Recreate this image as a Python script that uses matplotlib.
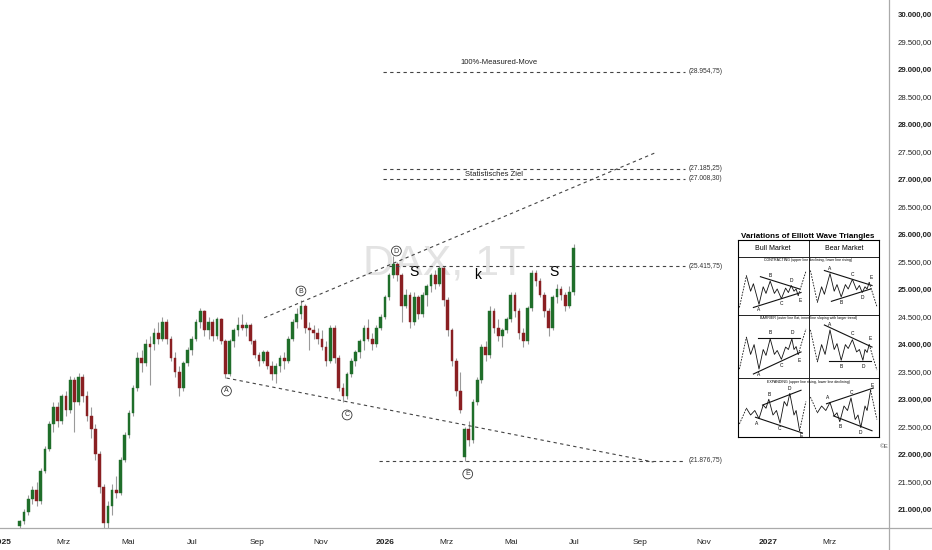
import matplotlib
matplotlib.use("Agg")
import matplotlib.pyplot as plt
import matplotlib.dates as mdates
from matplotlib.lines import Line2D
import pandas as pd

plt.rcParams['font.family'] = ['Liberation Sans', 'DejaVu Sans']

# DAX daily candles (one candle drawn per 4 calendar days)
candle_start = "2025-01-18"
opens = [20700, 20780, 20950, 21180, 21350, 21150, 21700, 22100, 22550, 22850,
         22600, 23050, 22800, 23350, 22950, 23400, 23050, 22700, 22450, 22000,
         21400, 20750, 21050, 21350, 21300, 21900, 22350, 22750, 23200, 23750,
         23650, 24000, 24000, 24200, 24100, 24400, 24100, 23750, 23500, 23200,
         23650, 23900, 24100, 24400, 24600, 24250, 24400, 24150, 24450, 24050,
         23450, 24050, 24250, 24350, 24300, 24350, 24050, 23800, 23700, 23850,
         23600, 23450, 23600, 23750, 23700, 24100, 24400, 24550, 24700, 24300,
         24250, 24200, 24100, 23950, 23700, 24300, 23750, 23200, 23050, 23450,
         23700, 23850, 24050, 24300, 24100, 24000, 24300, 24500, 24850, 25250,
         25450, 25250, 24700, 24900, 24400, 24850, 24550, 24900, 25050, 25250,
         25100, 25380, 24800, 24250, 23700, 23150, 21950, 22450, 22250, 22950,
         23350, 23950, 23800, 24600, 24300, 24150, 24250, 24450, 24900, 24600,
         24200, 24050, 24650, 25300, 25150, 24900, 24600, 24300, 24850, 25000,
         24900, 24700, 24950]
highs = [20800, 21000, 21250, 21420, 21500, 21750, 22150, 22600, 22950, 22950,
         23100, 23150, 23420, 23400, 23480, 23450, 23150, 22850, 22550, 22050,
         21450, 21150, 21450, 21600, 21950, 22400, 22800, 23250, 23850, 23900,
         24100, 24150, 24300, 24400, 24500, 24450, 24150, 23850, 23600, 23700,
         23950, 24150, 24450, 24650, 24620, 24500, 24450, 24500, 24480, 24100,
         24100, 24300, 24500, 24550, 24400, 24380, 24100, 23850, 23900, 23900,
         23700, 23650, 23800, 23850, 24150, 24450, 24650, 24800, 24720, 24400,
         24350, 24300, 24250, 24050, 24350, 24350, 23800, 23300, 23500, 23750,
         23900, 24100, 24350, 24450, 24200, 24350, 24550, 24900, 25300, 25600,
         25500, 25300, 25000, 24950, 24950, 24900, 24950, 25100, 25300, 25350,
         25420, 25420, 24850, 24300, 23750, 23500, 22500, 22600, 23000, 23400,
         24000, 24050, 24700, 24650, 24450, 24300, 24500, 24950, 24950, 24650,
         24300, 24700, 25350, 25350, 25200, 24950, 24650, 24900, 25100, 25050,
         24950, 25050, 25820]
lows = [20650, 20720, 20900, 21100, 21050, 21100, 21650, 22050, 22400, 22500,
        22550, 22700, 22750, 22400, 22900, 22950, 22600, 22300, 21900, 21300,
        20500, 20550, 20900, 21200, 21250, 21850, 22300, 22700, 23150, 23500,
        23600, 23250, 23900, 24000, 24050, 24000, 23700, 23400, 23050, 23150,
        23600, 23800, 24050, 24300, 24150, 24100, 24050, 24100, 24000, 23380,
        23420, 23950, 24150, 24250, 24150, 24000, 23750, 23600, 23650, 23550,
        23350, 23300, 23500, 23550, 23650, 24050, 24300, 24450, 24200, 23900,
        24100, 24000, 23900, 23600, 23650, 23650, 23150, 22950, 23000, 23400,
        23600, 23750, 23900, 24050, 23900, 23950, 24250, 24450, 24800, 25200,
        25150, 24400, 24650, 24300, 24350, 24450, 24500, 24700, 24950, 25000,
        25050, 24700, 24150, 23600, 23050, 22750, 21880, 22150, 22200, 22900,
        23300, 23700, 23750, 24200, 24050, 23950, 24200, 24400, 24500, 24100,
        23950, 24000, 24600, 25050, 24850, 24500, 24150, 24250, 24750, 24800,
        24600, 24650, 24900]
closes = [20780, 20950, 21180, 21350, 21150, 21700, 22100, 22550, 22850, 22600,
          23050, 22800, 23350, 22950, 23400, 23050, 22700, 22450, 22000, 21400,
          20750, 21050, 21350, 21300, 21900, 22350, 22750, 23200, 23750, 23650,
          24000, 23950, 24200, 24100, 24400, 24100, 23750, 23500, 23200, 23650,
          23900, 24100, 24400, 24600, 24250, 24400, 24150, 24450, 24050, 23450,
          24050, 24250, 24350, 24300, 24350, 24050, 23800, 23700, 23850, 23600,
          23450, 23600, 23750, 23700, 24100, 24400, 24550, 24700, 24300, 24250,
          24200, 24100, 23950, 23700, 24300, 23750, 23200, 23050, 23450, 23700,
          23850, 24050, 24300, 24100, 24000, 24300, 24500, 24850, 25250, 25450,
          25250, 24700, 24900, 24400, 24850, 24550, 24900, 25050, 25250, 25100,
          25380, 24800, 24250, 23700, 23150, 22800, 22450, 22250, 22950, 23350,
          23950, 23800, 24600, 24300, 24150, 24250, 24450, 24900, 24600, 24200,
          24050, 24650, 25300, 25150, 24900, 24600, 24300, 24850, 25000, 24900,
          24700, 24950, 25750]

# horizontal target levels
level_values = [28954.75, 27185.25, 27008.30, 25415.75, 21876.75]
level_texts = ["(28.954,75)", "(27.185,25)", "(27.008,30)", "(25.415,75)", "(21.876,75)"]
level_starts = ["2025-12-30", "2025-12-30", "2025-12-30", "2026-01-05", "2025-12-26"]
level_end = "2026-10-14"

# Elliott wave labels
wave_names = ["A", "B", "C", "D", "E"]
wave_dates = ["2025-08-03", "2025-10-13", "2025-11-26", "2026-01-12", "2026-03-21"]
wave_prices = [23146, 24964, 22710, 25691, 21637]

# triangle boundaries
upper_line = (["2025-09-08", "2026-09-17"], [24478, 27487])
lower_line = (["2025-08-03", "2026-09-14"], [23382, 21855])

dates = pd.date_range(candle_start, periods=len(closes), freq="4D")
x = mdates.date2num(dates)
d0 = mdates.date2num(pd.Timestamp("2025-01-01"))

fig = plt.figure(figsize=(9.32, 5.5), dpi=100)
ax = fig.add_axes([0, 22 / 550, 889 / 932, 528 / 550])
ax.set_xlim(d0 - 1.9, d0 + 845.6)
ax.set_ylim(20655, 30255)

# watermark
ax.text(mdates.date2num(pd.Timestamp("2026-02-27")), 25470, "DAX, 1T", fontsize=31,
        color="#e3e3e3", ha="center", va="center", zorder=0)

# candles
up_col, dn_col = "#1f6e2a", "#8a1f22"
cols = [up_col if c >= o else dn_col for o, c in zip(opens, closes)]
ax.vlines(x, lows, highs, color="#9a9a9a", linewidth=0.8, zorder=2)
bottoms = [min(o, c) for o, c in zip(opens, closes)]
heights = [max(abs(c - o), 25) for o, c in zip(opens, closes)]
ax.bar(x, heights, bottom=bottoms, width=2.6, color=cols, edgecolor=cols,
       linewidth=0.3, zorder=3)

dash = dict(color="#444444", linewidth=0.8, linestyle=(0, (3, 3)), zorder=4)
ax.plot(mdates.date2num(pd.to_datetime(upper_line[0])), upper_line[1], **dash)
ax.plot(mdates.date2num(pd.to_datetime(lower_line[0])), lower_line[1], **dash)

x_end = mdates.date2num(pd.Timestamp(level_end))
for val, txt, st in zip(level_values, level_texts, level_starts):
    ax.plot([mdates.date2num(pd.Timestamp(st)), x_end], [val, val], **dash)
    ax.text(x_end + 4, val, txt, fontsize=4.8, color="#333333", va="center", ha="left")

ax.text(mdates.date2num(pd.Timestamp("2026-04-20")), 29127, "100%-Measured-Move",
        fontsize=5.5, color="#222222", ha="center", va="center")
ax.text(mdates.date2num(pd.Timestamp("2026-04-15")), 27091, "Statistisches Ziel",
        fontsize=5.5, color="#222222", ha="center", va="center")

for n, dt, p in zip(wave_names, wave_dates, wave_prices):
    ax.text(mdates.date2num(pd.Timestamp(dt)), p, n, fontsize=5, color="#333333",
            ha="center", va="center",
            bbox=dict(boxstyle="circle,pad=0.2", fc="white", ec="#333333", lw=0.6))

ax.text(mdates.date2num(pd.Timestamp("2026-01-29")), 25310, "S", fontsize=10, ha="center", va="center")
ax.text(mdates.date2num(pd.Timestamp("2026-03-30")), 25255, "k", fontsize=10, ha="center", va="center")
ax.text(mdates.date2num(pd.Timestamp("2026-06-11")), 25310, "S", fontsize=10, ha="center", va="center")

# axes formatting
month_names = {3: "Mrz", 5: "Mai", 7: "Jul", 9: "Sep", 11: "Nov"}
tick_dates = pd.date_range("2025-01-01", "2027-03-01", freq="2MS")
ax.set_xticks(mdates.date2num(tick_dates))
ax.set_xticklabels([str(t.year) if t.month == 1 else month_names[t.month] for t in tick_dates])
for lab, t in zip(ax.get_xticklabels(), tick_dates):
    lab.set_fontsize(6)
    lab.set_color("#222222")
    if t.month == 1:
        lab.set_fontweight("bold")

yt = list(range(21000, 30001, 500))
ax.yaxis.tick_right()
ax.set_yticks(yt)
ax.set_yticklabels([f"{v:,.2f}".replace(",", "X").replace(".", ",").replace("X", ".") for v in yt])
for lab, v in zip(ax.get_yticklabels(), yt):
    lab.set_fontsize(5.6)
    lab.set_color("#222222")
    if v % 1000 == 0:
        lab.set_fontweight("bold")
ax.tick_params(axis="both", length=0, pad=6)
ax.tick_params(axis="x", pad=8)
for s in ax.spines.values():
    s.set_visible(False)

fig.add_artist(Line2D([889 / 932, 889 / 932], [0, 1], color="#aaaaaa", lw=0.9))
fig.add_artist(Line2D([0, 1], [22 / 550, 22 / 550], color="#aaaaaa", lw=0.9))

# inset: Elliott wave triangle variations
ins = fig.add_axes([738 / 932, 113 / 550, 141 / 932, 197 / 550])
ins.set_xlim(0, 141)
ins.set_ylim(197, 0)
ins.set_xticks([])
ins.set_yticks([])
for s in ins.spines.values():
    s.set_linewidth(0.8)
fig.text(808 / 932, 1 - 236 / 550, "Variations of Elliott Wave Triangles", fontsize=5.8,
         fontweight="bold", ha="center", va="center")
fig.text(880 / 932, 1 - 447 / 550, "©E", fontsize=4.5, color="#555555", ha="left", va="center")
for yy in [17, 75, 138]:
    ins.plot([0, 141], [yy, yy], color="#222222", lw=0.7)
ins.plot([71, 71], [0, 197], color="#222222", lw=0.7)
ins.text(35, 9, "Bull Market", fontsize=5, ha="center", va="center")
ins.text(106, 9, "Bear Market", fontsize=5, ha="center", va="center")
captions = ["CONTRACTING (upper line declining, lower line rising)",
            "BARRIER (outer line flat, inner line sloping with larger trend)",
            "EXPANDING (upper line rising, lower line declining)"]
row_tops = [17, 75, 138]
row_bottoms = [75, 138, 197]
for cap, yt0 in zip(captions, row_tops):
    ins.text(70.5, yt0 + 3.5, cap, fontsize=2.6, ha="center", va="center")

patterns = [
    ([0.12, 0.18, 0.22, 0.30, 0.36, 0.40, 0.46, 0.52, 0.56, 0.62, 0.68, 0.72, 0.76, 0.80, 0.83, 0.86],
     [0.80, 0.45, 0.62, 0.15, 0.55, 0.40, 0.68, 0.40, 0.50, 0.28, 0.52, 0.42, 0.58, 0.45, 0.50, 0.35],
     [(0.32, 0.78), (0.88, 0.50)], [(0.22, 0.08), (0.90, 0.42)],
     [(0.30, 0.04), (0.46, 0.80), (0.62, 0.17), (0.76, 0.70), (0.89, 0.24)],
     [(0.02, 0.08), (0.12, 0.80)], [(0.86, 0.35), (0.97, 0.90)]),
    ([0.12, 0.18, 0.23, 0.30, 0.36, 0.40, 0.46, 0.52, 0.56, 0.62, 0.68, 0.72, 0.77, 0.80, 0.83, 0.86],
     [0.75, 0.40, 0.60, 0.10, 0.50, 0.38, 0.72, 0.40, 0.48, 0.30, 0.55, 0.50, 0.72, 0.50, 0.56, 0.40],
     [(0.28, 0.74), (0.88, 0.74)], [(0.22, 0.00), (0.90, 0.45)],
     [(0.30, 0.00), (0.46, 0.84), (0.62, 0.18), (0.77, 0.84), (0.88, 0.28)],
     [(0.02, 0.10), (0.12, 0.75)], [(0.86, 0.40), (0.97, 0.92)]),
    ([0.12, 0.18, 0.24, 0.30, 0.36, 0.40, 0.44, 0.50, 0.55, 0.60, 0.66, 0.70, 0.74, 0.80, 0.83, 0.88],
     [0.55, 0.40, 0.50, 0.32, 0.62, 0.55, 0.75, 0.40, 0.50, 0.22, 0.70, 0.60, 0.88, 0.40, 0.50, 0.05],
     [(0.35, 0.62), (0.90, 0.95)], [(0.25, 0.35), (0.92, 0.00)],
     [(0.27, 0.22), (0.44, 0.86), (0.60, 0.10), (0.74, 0.98), (0.90, -0.05)],
     [(0.02, 0.20), (0.12, 0.55)], [(0.88, 0.05), (0.97, 0.70)]),
]
letters = ["A", "B", "C", "D", "E"]
for r, (px, py, up, lo, labs, lead, ex) in enumerate(patterns):
    top = row_tops[r] + 10
    h = row_bottoms[r] - 4 - top
    for c in range(2):
        x0 = 71 * c
        fy = (lambda v: top + h * v) if c == 1 else (lambda v: top + h * (1 - v))
        fx = lambda u: x0 + 70 * u
        ins.plot([fx(u) for u in px], [fy(v) for v in py], color="#111111", lw=0.6)
        for seg in (up, lo):
            ins.plot([fx(seg[0][0]), fx(seg[1][0])], [fy(seg[0][1]), fy(seg[1][1])],
                     color="#111111", lw=0.8)
        for seg in (lead, ex):
            ins.plot([fx(seg[0][0]), fx(seg[1][0])], [fy(seg[0][1]), fy(seg[1][1])],
                     color="#111111", lw=0.6, linestyle=(0, (2, 1.5)))
        for L, (u, v) in zip(letters, labs):
            ins.text(fx(u), fy(v), L, fontsize=3.5, ha="center", va="center")

fig.savefig("out.png", dpi=100)
